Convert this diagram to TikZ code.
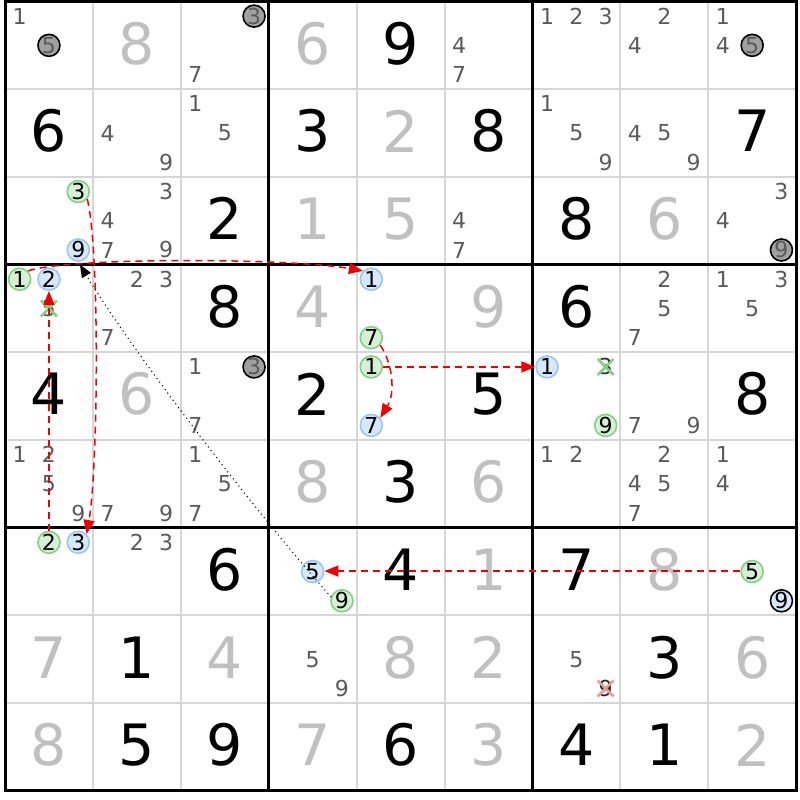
\documentclass[tikz,border=0pt]{standalone}
\usepackage{fontspec}
\setmainfont{DejaVu Sans}
\usetikzlibrary{arrows.meta}
\definecolor{candc}{RGB}{90,90,90}
\definecolor{lightdig}{RGB}{192,192,192}
\definecolor{gridl}{RGB}{214,214,214}
\definecolor{grnf}{RGB}{214,240,214}
\definecolor{grnd}{RGB}{128,210,128}
\definecolor{bluf}{RGB}{214,232,250}
\definecolor{blud}{RGB}{150,200,245}
\definecolor{grayf}{RGB}{160,160,160}
\definecolor{chainred}{RGB}{240,0,0}
\definecolor{pinkx}{RGB}{240,150,150}
\newcommand\cnd[4][cand]{%
  \pgfmathsetmacro\sdkx{5+87.9*(#3-1)+87.9*(2*mod(#4-1,3)+1)/6}%
  \pgfmathsetmacro\sdky{1.5+87.7*(#2-1)+87.7*(2*int((#4-1)/3)+1)/6}%
  \node[#1] (r#2c#3d#4) at (\sdkx,\sdky) {#4};}
\newcommand\givn[4][bigk]{%
  \pgfmathsetmacro\sdkx{5+87.9*(#3-0.5)}%
  \pgfmathsetmacro\sdky{1.5+87.7*(#2-0.5)-2}%
  \node[#1] (g#2c#3) at (\sdkx,\sdky) {#4};}
\newcommand\sdkcross[2]{%
  \draw[#1] ([shift={(-8,-8)}]#2.center) -- ([shift={(8,8)}]#2.center);
  \draw[#1] ([shift={(-8,8)}]#2.center) -- ([shift={(8,-8)}]#2.center);}
\tikzset{
  cand/.style={font=\fontsize{22}{22}\selectfont, text=candc, inner sep=0pt},
  ccirc/.style={cand, circle, minimum size=22pt, line width=1.6pt, text=black},
  cgreen/.style={ccirc, fill=grnf, draw=grnd},
  cblue/.style={ccirc, fill=bluf, draw=blud},
  cgray/.style={ccirc, fill=grayf, draw=black, text=candc},
  cbluek/.style={ccirc, fill=bluf, draw=black, text=black},
  bigk/.style={font=\fontsize{57}{57}\selectfont, text=black, inner sep=0pt},
  bigl/.style={bigk, text=lightdig},
  thinl/.style={draw=gridl, line width=2pt},
  thickl/.style={draw=black, line width=3pt},
  xgreen/.style={draw=grnd, line width=2.5pt},
  xpink/.style={draw=pinkx, line width=2.5pt},
  redlink/.style={draw=chainred, line width=1.5pt, dash pattern=on 7pt off 5pt,
    -{Triangle[length=14pt,width=11pt]}},
  dotlink/.style={draw=black, line width=1.5pt, line cap=round,
    dash pattern=on 0pt off 4.5pt, shorten >=3pt,
    -{Triangle[length=13pt,width=10pt]}}
}
\begin{document}
\begin{tikzpicture}[x=1pt,y=-1pt]
\useasboundingbox (0,0) rectangle (800,800);
\fill[white] (0,0) rectangle (800,800);
% grid
\foreach \i in {1,2,4,5,7,8} {
  \draw[thinl] ({5+87.9*\i},1.5) -- ({5+87.9*\i},790.8);
  \draw[thinl] (5,{1.5+87.7*\i}) -- (796.1,{1.5+87.7*\i});
}
\foreach \i in {0,3,6,9} {
  \draw[thickl] ({5+87.9*\i},0) -- ({5+87.9*\i},792.3);
  \draw[thickl] (3.5,{1.5+87.7*\i}) -- (797.6,{1.5+87.7*\i});
}
% big digits
\givn[bigl]{1}{2}{8} \givn[bigl]{1}{4}{6} \givn{1}{5}{9}
\givn{2}{1}{6} \givn{2}{4}{3} \givn[bigl]{2}{5}{2} \givn{2}{6}{8} \givn{2}{9}{7}
\givn{3}{3}{2} \givn[bigl]{3}{4}{1} \givn[bigl]{3}{5}{5} \givn{3}{7}{8} \givn[bigl]{3}{8}{6}
\givn{4}{3}{8} \givn[bigl]{4}{4}{4} \givn[bigl]{4}{6}{9} \givn{4}{7}{6}
\givn{5}{1}{4} \givn[bigl]{5}{2}{6} \givn{5}{4}{2} \givn{5}{6}{5} \givn{5}{9}{8}
\givn[bigl]{6}{4}{8} \givn{6}{5}{3} \givn[bigl]{6}{6}{6}
\givn{7}{3}{6} \givn{7}{5}{4} \givn[bigl]{7}{6}{1} \givn{7}{7}{7} \givn[bigl]{7}{8}{8}
\givn[bigl]{8}{1}{7} \givn{8}{2}{1} \givn[bigl]{8}{3}{4} \givn[bigl]{8}{5}{8} \givn[bigl]{8}{6}{2} \givn{8}{8}{3} \givn[bigl]{8}{9}{6}
\givn[bigl]{9}{1}{8} \givn{9}{2}{5} \givn{9}{3}{9} \givn[bigl]{9}{4}{7} \givn{9}{5}{6} \givn[bigl]{9}{6}{3} \givn{9}{7}{4} \givn{9}{8}{1} \givn[bigl]{9}{9}{2}
% candidates
\cnd{1}{1}{1} \cnd[cgray]{1}{1}{5}
\cnd[cgray]{1}{3}{3} \cnd{1}{3}{7}
\cnd{1}{6}{4} \cnd{1}{6}{7}
\cnd{1}{7}{1} \cnd{1}{7}{2} \cnd{1}{7}{3}
\cnd{1}{8}{2} \cnd{1}{8}{4}
\cnd{1}{9}{1} \cnd{1}{9}{4} \cnd[cgray]{1}{9}{5}
\cnd{2}{2}{4} \cnd{2}{2}{9}
\cnd{2}{3}{1} \cnd{2}{3}{5}
\cnd{2}{7}{1} \cnd{2}{7}{5} \cnd{2}{7}{9}
\cnd{2}{8}{4} \cnd{2}{8}{5} \cnd{2}{8}{9}
\cnd[cgreen]{3}{1}{3} \cnd[cblue]{3}{1}{9}
\cnd{3}{2}{3} \cnd{3}{2}{4} \cnd{3}{2}{7} \cnd{3}{2}{9}
\cnd{3}{6}{4} \cnd{3}{6}{7}
\cnd{3}{9}{3} \cnd{3}{9}{4} \cnd[cgray]{3}{9}{9}
\cnd[cgreen]{4}{1}{1} \cnd[cblue]{4}{1}{2} \cnd{4}{1}{5}
\cnd{4}{2}{2} \cnd{4}{2}{3} \cnd{4}{2}{7}
\cnd[cblue]{4}{5}{1} \cnd[cgreen]{4}{5}{7}
\cnd{4}{8}{2} \cnd{4}{8}{5} \cnd{4}{8}{7}
\cnd{4}{9}{1} \cnd{4}{9}{3} \cnd{4}{9}{5}
\cnd{5}{3}{1} \cnd[cgray]{5}{3}{3} \cnd{5}{3}{7}
\cnd[cgreen]{5}{5}{1} \cnd[cblue]{5}{5}{7}
\cnd[cblue]{5}{7}{1} \cnd[cand,text=black!80]{5}{7}{3} \cnd[cgreen]{5}{7}{9}
\cnd{5}{8}{7} \cnd{5}{8}{9}
\cnd{6}{1}{1} \cnd{6}{1}{2} \cnd{6}{1}{5} \cnd{6}{1}{9}
\cnd{6}{2}{7} \cnd{6}{2}{9}
\cnd{6}{3}{1} \cnd{6}{3}{5} \cnd{6}{3}{7}
\cnd{6}{7}{1} \cnd{6}{7}{2}
\cnd{6}{8}{2} \cnd{6}{8}{4} \cnd{6}{8}{5} \cnd{6}{8}{7}
\cnd{6}{9}{1} \cnd{6}{9}{4}
\cnd[cgreen]{7}{1}{2} \cnd[cblue]{7}{1}{3}
\cnd{7}{2}{2} \cnd{7}{2}{3}
\cnd[cblue]{7}{4}{5} \cnd[cgreen]{7}{4}{9}
\cnd[cgreen]{7}{9}{5} \cnd[cbluek]{7}{9}{9}
\cnd{8}{4}{5} \cnd{8}{4}{9}
\cnd{8}{7}{5} \cnd[cand,text=black!85]{8}{7}{9}
% eliminations
\sdkcross{xgreen}{r4c1d5}
\sdkcross{xgreen}{r5c7d3}
\sdkcross{xpink}{r8c7d9}
% links
\draw[redlink] (r4c1d1.45) .. controls (70,257) and (290,258) .. (r4c5d1.135);
\draw[redlink] (r3c1d3.-40) .. controls (100,250) and (98,470) .. (r7c1d3.45);
\draw[redlink] (r7c1d2.north) -- (r4c1d2.south);
\draw[redlink] (r4c5d7.-40) .. controls (392,362) and (396,392) .. (r5c5d7.40);
\draw[redlink] (r5c5d1.east) -- (r5c7d1.west);
\draw[redlink] ([yshift=0.5pt]r7c9d5.west) -- ([yshift=0.5pt]r7c4d5.east);
\draw[dotlink] (r7c4d9.160) .. controls (245,500) and (125,340) .. (r3c1d9.-90);
\end{tikzpicture}
\end{document}
